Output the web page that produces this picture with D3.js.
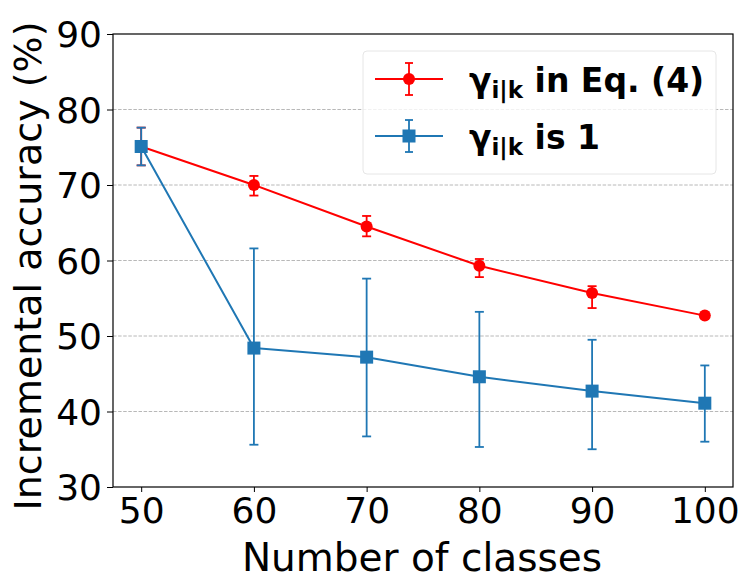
<!DOCTYPE html>
<html>
<head>
<meta charset="utf-8">
<script src="https://cdn.jsdelivr.net/npm/d3@7"></script>
<style>
  body { margin: 0; background: #fff; }
  text { font-family: "DejaVu Sans", sans-serif; }
</style>
</head>
<body>
<div id="chart"></div>
<script>
// data
const classes = [50, 60, 70, 80, 90, 100];
const eqMean = [75.1, 70.0, 64.5, 59.3, 55.7, 52.7];
const eqLow  = [72.6, 68.6, 63.2, 57.8, 53.7, 52.5];
const eqHigh = [77.6, 71.2, 65.9, 60.2, 56.6, 52.9];
const oneMean = [75.1, 48.4, 47.2, 44.6, 42.7, 41.1];
const oneLow  = [72.6, 35.6, 36.7, 35.3, 35.0, 36.0];
const oneHigh = [77.6, 61.6, 57.6, 53.2, 49.5, 46.1];
const yTicks = [30, 40, 50, 60, 70, 80, 90];
const gridTicks = [40, 50, 60, 70, 80];

const W = 751, H = 588;
const margin = { top: 34, right: 18, bottom: 101, left: 113 };
const width = W - margin.left - margin.right;
const height = H - margin.top - margin.bottom;

const svg = d3.select("#chart").append("svg")
    .attr("width", W)
    .attr("height", H);

const g = svg.append("g")
    .attr("transform", `translate(${margin.left},${margin.top})`);

const x = d3.scaleLinear().domain([47.5, 102.5]).range([0, width]);
const y = d3.scaleLinear().domain([30, 90]).range([height, 0]);

// grid
g.selectAll(".grid").data(gridTicks).enter().append("line")
    .attr("x1", 0).attr("x2", width)
    .attr("y1", d => y(d)).attr("y2", d => y(d))
    .attr("stroke", "#b0b0b0")
    .attr("stroke-width", 0.9)
    .attr("stroke-dasharray", "3.5,1.6");

// axes
const xAxis = g.append("g")
    .attr("transform", `translate(0,${height})`)
    .call(d3.axisBottom(x).tickValues(classes).tickSize(5).tickPadding(4));
const yAxis = g.append("g")
    .call(d3.axisLeft(y).tickValues(yTicks).tickSize(6).tickPadding(5));

[xAxis, yAxis].forEach(a => {
    a.select(".domain").remove();
    a.selectAll("line").attr("stroke", "#000").attr("stroke-width", 1);
    a.selectAll("text").attr("font-size", 36).attr("fill", "#000")
        .style("font-family", "DejaVu Sans");
});
yAxis.selectAll("text").attr("dy", "0.36em");
xAxis.selectAll("text").attr("dy", "0.74em");

// frame
g.append("rect")
    .attr("x", 0).attr("y", 0)
    .attr("width", width).attr("height", height)
    .attr("fill", "none")
    .attr("stroke", "#000")
    .attr("stroke-width", 1.2);

function drawSeries(mean, low, high, color, shape) {
    const pts = classes.map((c, i) => ({ c, m: mean[i], lo: low[i], hi: high[i] }));
    const s = g.append("g");
    // error bars
    s.selectAll(".eb").data(pts).enter().append("line")
        .attr("x1", d => x(d.c)).attr("x2", d => x(d.c))
        .attr("y1", d => y(d.lo)).attr("y2", d => y(d.hi))
        .attr("stroke", color).attr("stroke-width", 1.8);
    ["lo", "hi"].forEach(k => {
        s.selectAll(".cap" + k).data(pts).enter().append("line")
            .attr("x1", d => x(d.c) - 4.5).attr("x2", d => x(d.c) + 4.5)
            .attr("y1", d => y(d[k])).attr("y2", d => y(d[k]))
            .attr("stroke", color).attr("stroke-width", 1.8);
    });
    const line = d3.line().x(d => x(d.c)).y(d => y(d.m));
    s.append("path").datum(pts)
        .attr("d", line)
        .attr("fill", "none")
        .attr("stroke", color)
        .attr("stroke-width", 2);
    if (shape === "circle") {
        s.selectAll(".mk").data(pts).enter().append("circle")
            .attr("cx", d => x(d.c)).attr("cy", d => y(d.m))
            .attr("r", 6).attr("fill", color);
    } else {
        s.selectAll(".mk").data(pts).enter().append("rect")
            .attr("x", d => x(d.c) - 6.5).attr("y", d => y(d.m) - 6.5)
            .attr("width", 13).attr("height", 13).attr("fill", color);
    }
}

drawSeries(eqMean, eqLow, eqHigh, "#ff0000", "circle");
drawSeries(oneMean, oneLow, oneHigh, "#1f77b4", "square");

// axis labels
svg.append("text")
    .attr("x", 422).attr("y", 571)
    .attr("text-anchor", "middle")
    .attr("font-size", 39)
    .text("Number of classes");

svg.append("text")
    .attr("transform", "translate(41,266) rotate(-90)")
    .attr("text-anchor", "middle")
    .attr("font-size", 38)
    .text("Incremental accuracy (%)");

// legend
const legend = svg.append("g");
legend.append("rect")
    .attr("x", 363).attr("y", 51)
    .attr("width", 353).attr("height", 123)
    .attr("rx", 4)
    .attr("fill", "#fff").attr("fill-opacity", 0.8)
    .attr("stroke", "#e6e6e6");

const legendItems = [
    { color: "#ff0000", shape: "circle", rest: " in Eq. (4)", cy: 79 },
    { color: "#1f77b4", shape: "square", rest: " is 1", cy: 136 }
];
legendItems.forEach(it => {
    const r = legend.append("g");
    r.append("line").attr("x1", 375).attr("x2", 443)
        .attr("y1", it.cy).attr("y2", it.cy)
        .attr("stroke", it.color).attr("stroke-width", 2);
    r.append("line").attr("x1", 409).attr("x2", 409)
        .attr("y1", it.cy - 16).attr("y2", it.cy + 16)
        .attr("stroke", it.color).attr("stroke-width", 1.8);
    [-16, 16].forEach(o => r.append("line")
        .attr("x1", 405).attr("x2", 413)
        .attr("y1", it.cy + o).attr("y2", it.cy + o)
        .attr("stroke", it.color).attr("stroke-width", 1.8));
    if (it.shape === "circle") {
        r.append("circle").attr("cx", 409).attr("cy", it.cy).attr("r", 6).attr("fill", it.color);
    } else {
        r.append("rect").attr("x", 402.5).attr("y", it.cy - 6.5)
            .attr("width", 13).attr("height", 13).attr("fill", it.color);
    }
    const t = r.append("text")
        .attr("x", 469).attr("y", it.cy + 13)
        .attr("font-size", 33)
        .attr("font-weight", "bold");
    t.append("tspan").text("γ");
    t.append("tspan").attr("font-size", 23).attr("dy", 6).text("i|k");
    t.append("tspan").attr("dy", -6).text(it.rest);
});
</script>
</body>
</html>
